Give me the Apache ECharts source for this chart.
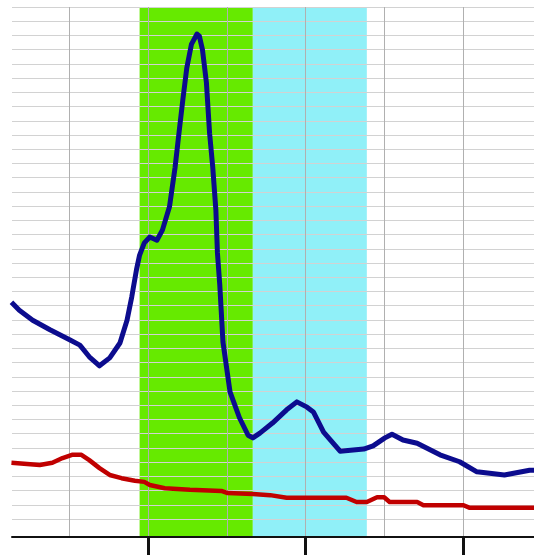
<!DOCTYPE html>
<html>
<head>
<meta charset="utf-8">
<script src="https://cdn.jsdelivr.net/npm/echarts@6/dist/echarts.min.js"></script>
<style>
  html, body { margin: 0; padding: 0; background: #fff; overflow: hidden; width: 534px; height: 555px; }
  /* canvas starts a little left of the window so the x value 0 sits just off-screen */
  #chart { position: absolute; left: -9px; top: 0; width: 629px; height: 555px; }
</style>
</head>
<body>
<div id="chart"></div>
<script>
// x in axis units (major tick every 20), y in percent of plot height
const blueX = [2.6, 3.6, 5.3, 7.5, 10.0, 11.3, 12.5, 13.8, 15.1, 16.4, 17.3, 17.9, 18.5, 18.9, 19.5, 20.2, 21.1, 21.8,
  22.7, 23.4, 24.0, 24.4, 24.9, 25.5, 26.2, 26.5, 26.9, 27.4, 27.8, 28.2, 28.6, 28.8, 29.1, 29.5, 30.4, 31.6, 32.7,
  33.3, 34.2, 35.8, 37.6, 38.9, 40.2, 41.0, 42.3, 44.4, 47.4, 48.6, 50.1, 51.0, 52.4, 54.2, 57.1, 59.6, 61.8, 65.3, 68.5, 70.0];
const blueY = [44.3, 42.8, 40.9, 39.1, 37.2, 36.2, 34.0, 32.3, 33.8, 36.6, 40.9, 45.3, 50.4, 53.2, 55.5, 56.6, 56.0, 57.9,
  62.3, 69.6, 77.4, 82.5, 88.5, 93.0, 94.9, 94.5, 91.9, 85.7, 76.2, 69.8, 61.7, 53.6, 47.5, 36.8, 27.4, 22.5, 19.2,
  18.7, 19.6, 21.5, 24.0, 25.5, 24.5, 23.6, 19.8, 16.2, 16.6, 17.2, 18.7, 19.4, 18.3, 17.7, 15.5, 14.2, 12.3, 11.7, 12.6, 12.6];

const redX = [2.6, 6.2, 7.8, 9.1, 10.3, 11.5, 12.5, 13.8, 15.1, 16.6, 18.3, 19.5, 20.2, 22.1, 25.3, 29.3, 30.1, 33.3,
  35.5, 37.6, 45.2, 46.5, 47.8, 49.1, 50.0, 50.7, 54.2, 55.0, 60.1, 60.9, 70.0];
const redY = [14.0, 13.6, 14.0, 14.9, 15.5, 15.5, 14.5, 13.0, 11.7, 11.1, 10.6, 10.4, 9.8, 9.2, 8.9, 8.7, 8.3, 8.1,
  7.9, 7.4, 7.4, 6.6, 6.6, 7.5, 7.5, 6.6, 6.6, 6.0, 6.0, 5.5, 5.5];

// shaded ranges [start, end] on the x axis
const greenBand = [18.9, 33.3];
const cyanBand = [33.3, 47.8];

const chart = echarts.init(document.getElementById('chart'));

const shift = 9;        // how far the canvas sits left of the window
const viewW = 534;
const canvasW = 629;
const rightPad = canvasW - viewW - shift;

const option = {
  animation: false,
  backgroundColor: '#ffffff',
  grid: [
    // horizontal grid lines
    { left: 12 + shift, right: rightPad, top: 7, height: 512 },
    // data, vertical grid lines, ticks
    { left: 0, right: 0, top: 7, bottom: 18 },
    // bottom axis line
    { left: 12 + shift, right: rightPad, top: 7, bottom: 18 }
  ],
  xAxis: [
    { gridIndex: 0, type: 'value', show: false },
    {
      gridIndex: 1,
      type: 'value',
      min: 0,
      max: 80,
      interval: 20,
      axisLine: { show: false },
      axisLabel: { show: false },
      axisTick: { show: true, inside: false, length: 18, lineStyle: { color: '#111', width: 3 } },
      splitLine: { show: true, lineStyle: { color: '#b0b0b0', width: 1 } },
      minorTick: { show: false, splitNumber: 2 },
      minorSplitLine: { show: true, lineStyle: { color: '#b0b0b0', width: 1 } }
    },
    {
      gridIndex: 2,
      type: 'value',
      axisLine: { show: true, lineStyle: { color: '#111', width: 2 } },
      axisTick: { show: false },
      axisLabel: { show: false },
      splitLine: { show: false }
    }
  ],
  yAxis: [
    {
      gridIndex: 0,
      type: 'value',
      min: 0,
      max: 36,
      interval: 1,
      axisLine: { show: false },
      axisTick: { show: false },
      axisLabel: { show: false },
      splitLine: { show: true, lineStyle: { color: '#d2d2d2', width: 1 } }
    },
    { gridIndex: 1, type: 'value', min: 0, max: 100, show: false, splitLine: { show: false } },
    { gridIndex: 2, type: 'value', show: false, splitLine: { show: false } }
  ],
  series: [
    {
      name: 'bands',
      type: 'line',
      xAxisIndex: 1,
      yAxisIndex: 1,
      z: -1,
      data: [],
      markArea: {
        z: -1,
        silent: true,
        data: [
          [{ xAxis: greenBand[0], itemStyle: { color: '#66ea00' } }, { xAxis: greenBand[1] }],
          [{ xAxis: cyanBand[0], itemStyle: { color: '#90f0f8' } }, { xAxis: cyanBand[1] }]
        ]
      }
    },
    {
      name: 'blue',
      type: 'line',
      xAxisIndex: 1,
      yAxisIndex: 1,
      symbol: 'none',
      lineStyle: { color: '#0c0c8e', width: 5, join: 'round' },
      data: blueX.map((x, i) => [x, blueY[i]])
    },
    {
      name: 'red',
      type: 'line',
      xAxisIndex: 1,
      yAxisIndex: 1,
      symbol: 'none',
      lineStyle: { color: '#c00000', width: 4.5, join: 'round' },
      data: redX.map((x, i) => [x, redY[i]])
    }
  ]
};

chart.setOption(option);
</script>
</body>
</html>
